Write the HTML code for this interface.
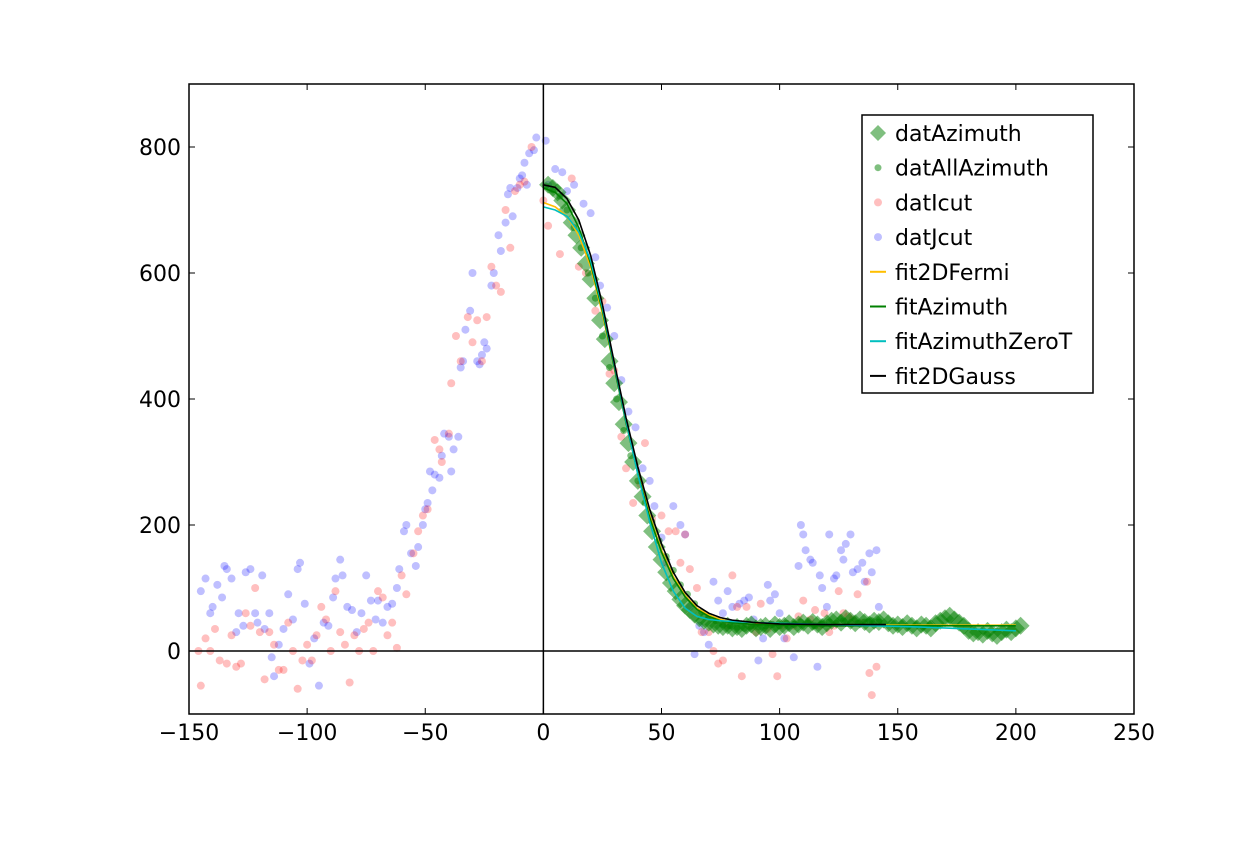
<!DOCTYPE html>
<html><head><meta charset="utf-8"><style>
body{margin:0;background:#fff;}
svg text{font-family:"DejaVu Sans","Liberation Sans",sans-serif;font-size:22px;fill:#000;}
</style></head><body>
<svg id="chart" width="1260" height="840" xmlns="http://www.w3.org/2000/svg">
<rect x="0" y="0" width="1260" height="840" fill="#fff"/>
<g id="marks"></g>
<g id="axes"></g>
</svg>
<script>
const xTicks=[-150,-100,-50,0,50,100,150,200,250];
const yTicks=[0,200,400,600,800];
const jX=[-145,-143,-141,-140,-138,-136,-135,-134,-132,-130,-129,-127,-126,-124,-122,-121,-119,-118,-116,-115,-114,-112,-110,-108,-106,-104,-103,-101,-99,-97,-95,-93,-91,-89,-88,-86,-85,-83,-81,-79,-77,-75,-73,-71,-70,-68,-66,-64,-62,-61,-59,-58,-56,-54,-53,-51,-50,-49,-48,-47,-46,-44,-43,-42,-40,-39,-38,-36,-35,-34,-33,-31,-30,-28,-27,-26,-25,-24,-22,-21,-19,-18,-16,-15,-14,-13,-11,-10,-9,-8,-7,-6,-4,-3,1,2,5,8,10,13,17,20,22,24,27,30,33,36,39,42,45,47,50,52,55,58,60,62,64,66,68,70,72,74,76,78,80,83,85,87,89,91,93,95,96,98,100,102,104,106,108,109,110,111,113,114,116,117,118,120,121,123,124,126,127,128,130,131,133,135,136,138,139,141,142];
const jY=[95,115,60,70,105,85,135,130,115,30,60,40,125,130,60,45,120,35,60,-10,-40,10,35,90,50,130,140,75,-20,20,-55,45,40,85,115,145,120,70,65,30,60,120,80,50,80,45,70,75,100,130,190,200,155,135,165,200,225,235,285,255,280,275,310,345,340,285,320,340,450,460,510,540,600,460,455,470,490,480,580,600,660,635,680,725,735,690,735,750,755,775,740,790,795,815,810,740,765,760,730,740,710,695,625,580,545,500,430,380,355,290,270,230,180,140,230,200,185,70,-5,40,30,10,110,80,60,95,70,75,80,85,50,-15,20,105,80,90,60,20,40,-10,135,200,185,160,145,140,-25,120,100,70,185,115,120,160,145,170,185,125,130,140,110,155,125,160,70];
const iX=[-146,-145,-143,-141,-139,-137,-134,-132,-130,-128,-126,-124,-122,-120,-118,-116,-114,-112,-110,-108,-106,-104,-102,-100,-98,-96,-94,-92,-90,-88,-86,-84,-82,-80,-78,-76,-74,-72,-70,-68,-66,-64,-62,-60,-58,-55,-53,-51,-49,-46,-44,-43,-40,-39,-37,-35,-32,-30,-28,-26,-24,-22,-20,-18,-16,-14,-12,-10,-8,-5,0,2,7,12,15,18,22,25,28,30,33,35,38,41,43,46,50,53,56,58,60,62,65,67,70,72,74,76,78,80,82,84,86,88,90,92,95,97,99,101,103,106,108,110,113,115,117,119,121,123,125,127,129,131,133,135,137,138,139,141];
const iY=[0,-55,20,0,35,-15,-20,25,-25,-20,60,40,100,30,-45,30,10,-30,-30,45,0,-60,-15,10,-15,25,70,50,0,95,30,10,-50,25,0,35,45,0,95,85,25,45,5,120,90,155,190,215,225,335,320,300,345,425,500,460,530,490,525,460,530,610,580,570,700,640,730,740,745,800,715,675,630,750,610,600,540,555,440,445,340,290,235,265,330,210,215,190,190,140,185,130,100,30,30,0,-20,-15,40,120,70,-40,70,40,30,75,35,-5,-40,40,20,40,55,80,50,65,40,60,30,40,95,60,55,50,90,45,110,-35,-70,-25];
const azX=[];for(let v=2;v<=202;v+=2)azX.push(v);
const azY=[740,735,728,715,700,680,660,640,615,590,560,525,495,460,425,395,360,330,300,270,245,215,190,165,145,125,108,95,82,72,65,58,52,48,45,42,40,38,40,36,38,35,40,42,36,38,40,35,42,38,40,44,38,42,45,40,46,42,38,44,48,50,45,52,48,44,50,46,42,48,46,50,44,40,42,38,44,40,36,42,40,36,44,48,52,56,50,45,40,32,28,30,26,32,28,24,30,34,30,36,40];
const allX=[1,4,7,10,13,16,19,22,25,28,31,34,37,40,43,46,49,52,55,58,61,64,67,70,73,76,79,82,85,88,91,94,97,100,103,106,109,112,115,118,121,124,127,130,133,136,139,142];
const allY=[738,732,722,700,672,640,600,560,500,450,400,350,310,270,235,205,175,150,128,105,90,75,62,55,48,42,40,38,36,40,38,40,42,40,44,42,46,44,40,42,46,44,48,45,44,46,48,46];
const fitX=[0,5,10,15,20,25,30,35,40,45,50,55,60,65,70,75,80,90,100,120,140,160,180,200];
const gaussX=[0,5,10,15,20,25,30,35,40,45,50,55,60,65,70,75,80,90,100,120,145];
const gaussY=[740,736,718,684,628,550,458,370,292,225,170,125,93,72,60,53,49,45,43,42,42];
const fermiY=[712,705,690,660,610,535,450,365,285,215,160,118,88,68,57,50,46,43,42,41,41,41,41,41];
const fitAzY=[735,728,710,672,615,540,450,362,282,212,157,115,86,66,55,48,45,42,41,40,40,40,40,40];
const zeroTY=[705,700,690,665,620,545,455,365,280,205,140,95,68,55,50,48,47,45,44,42,40,38,35,32];

const L=189,R=1134,T=84,B=714;
const sx=v=>L+(v+150)/400*(R-L);
const sy=v=>B-(v+100)/1000*(B-T);
const NS='http://www.w3.org/2000/svg';
const marks=document.getElementById('marks'),axes=document.getElementById('axes');
function mk(tag,attrs,parent){const e=document.createElementNS(NS,tag);for(const k in attrs)e.setAttribute(k,attrs[k]);parent.appendChild(e);return e;}

jX.forEach((x,i)=>{const c=mk('circle',{cx:sx(x),cy:sy(jY[i]),r:4,fill:'#0000ff','fill-opacity':0.25},marks);

});
iX.forEach((x,i)=>{const c=mk('circle',{cx:sx(x),cy:sy(iY[i]),r:4,fill:'#ff0000','fill-opacity':0.25},marks);

});
azX.forEach((x,i)=>{const cx=sx(x),cy=sy(azY[i]),d=9;
const p=mk('polygon',{points:`${cx},${cy-d} ${cx+d},${cy} ${cx},${cy+d} ${cx-d},${cy}`,fill:'#008000','fill-opacity':0.5},marks);

});
allX.forEach((x,i)=>{const c=mk('circle',{cx:sx(x),cy:sy(allY[i]),r:3.5,fill:'#008000','fill-opacity':0.5},marks);

});
function line(xs,ys,col,name){const pts=xs.map((x,i)=>sx(x)+','+sy(ys[i])).join(' ');
const p=mk('polyline',{points:pts,fill:'none',stroke:col,'stroke-width':1.6},marks);

}
line(fitX,fermiY,'#ffbf00','fit2dfermi-line');
line(fitX,fitAzY,'#008000','fitazimuth-line');
line(fitX,zeroTY,'#00bfbf','fitazimuthzerot-line');
line(gaussX,gaussY,'#000000','fit2dgauss-line');

mk('line',{x1:sx(0),x2:sx(0),y1:T,y2:B,stroke:'#000','stroke-width':1.5},axes);
mk('line',{x1:L,x2:R,y1:sy(0),y2:sy(0),stroke:'#000','stroke-width':1.5},axes);
const frame=mk('rect',{x:L,y:T,width:R-L,height:B-T,fill:'none',stroke:'#000','stroke-width':1.5},axes);


xTicks.forEach(t=>{const x=sx(t);
mk('line',{x1:x,x2:x,y1:B,y2:B-6,stroke:'#000'},axes);mk('line',{x1:x,x2:x,y1:T,y2:T+6,stroke:'#000'},axes);
const tx=mk('text',{x:x,y:B+26,'text-anchor':'middle'},axes);tx.textContent=t<0?'\u2212'+(-t):t;

});
yTicks.forEach(t=>{const y=sy(t);
mk('line',{x1:L,x2:L+6,y1:y,y2:y,stroke:'#000'},axes);mk('line',{x1:R,x2:R-6,y1:y,y2:y,stroke:'#000'},axes);
const tx=mk('text',{x:L-8,y:y+8,'text-anchor':'end'},axes);tx.textContent=t;

});

const lg=mk('g',{},axes);


mk('rect',{x:862,y:115,width:231,height:278,fill:'#fff',stroke:'#000','stroke-width':1.5},lg);
const names=['datAzimuth','datAllAzimuth','datIcut','datJcut','fit2DFermi','fitAzimuth','fitAzimuthZeroT','fit2DGauss'];
names.forEach((n,i)=>{const y=133+i*34.7;
if(i===0)mk('polygon',{points:`878,${y-8} 886,${y} 878,${y+8} 870,${y}`,fill:'#008000','fill-opacity':0.5},lg);
else if(i===1)mk('circle',{cx:878,cy:y,r:3.5,fill:'#008000','fill-opacity':0.5},lg);
else if(i===2)mk('circle',{cx:878,cy:y,r:4,fill:'#ff0000','fill-opacity':0.25},lg);
else if(i===3)mk('circle',{cx:878,cy:y,r:4,fill:'#0000ff','fill-opacity':0.25},lg);
else{const c=['#ffbf00','#008000','#00bfbf','#000'][i-4];mk('line',{x1:870,x2:886,y1:y,y2:y,stroke:c,'stroke-width':2},lg);}
const t=mk('text',{x:895,y:y+8},lg);t.textContent=n;

});
</script>
</body></html>
